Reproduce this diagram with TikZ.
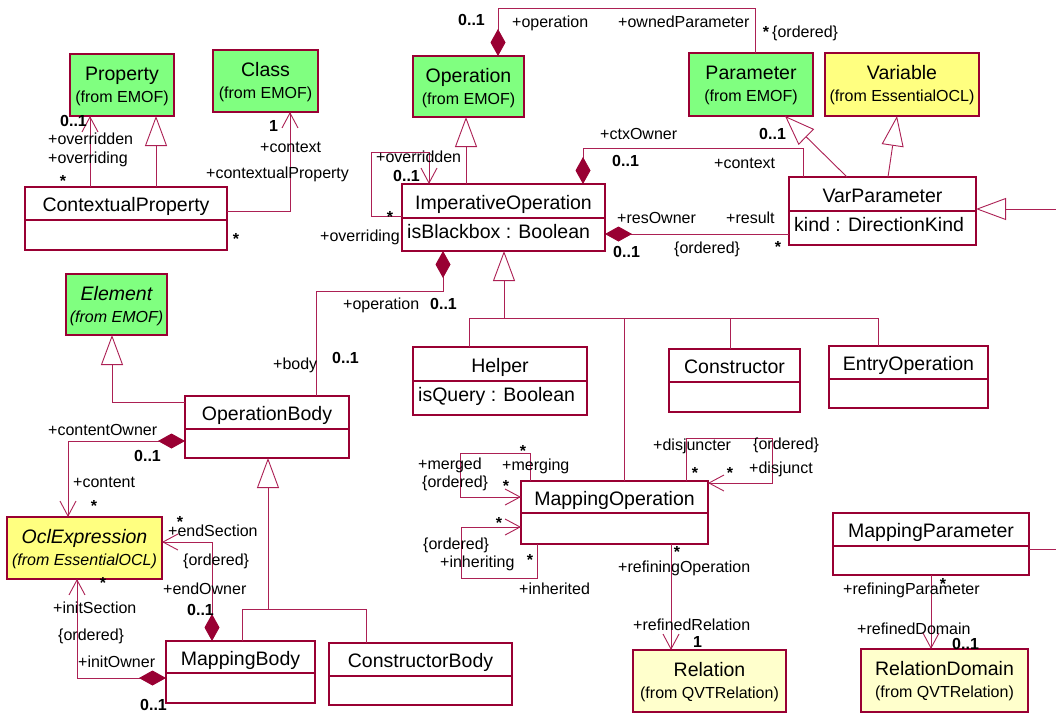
\documentclass[tikz,border=0pt]{standalone}
\usepackage{fontspec}
\setmainfont{Liberation Sans}
\usetikzlibrary{arrows.meta,calc}
\definecolor{bc}{RGB}{153,0,51}
\definecolor{lc}{RGB}{172,32,84}
\definecolor{gfill}{RGB}{128,255,128}
\definecolor{yfill}{RGB}{255,255,128}
\definecolor{lyfill}{RGB}{255,255,204}
\newcommand{\umlcls}[8]{%
 \node[box,minimum width=#4pt,minimum height=#5pt] (#1) at (#2,#3) {};
 \draw[bc,line width=1.1pt] ($(#1.north west)+(0,#6)$) -- ($(#1.north east)+(0,#6)$);
 \node[nm] (#1-n) at ($(#1.north)+(0,#6/2+1)$) {#7};
 \node[attr] (#1-a) at ($(#1.north west)+(5,#6+13)$) {#8};
}
\newcommand{\umlref}[8]{%
 \node[box,fill=#6,minimum width=#4pt,minimum height=#5pt] (#1) at (#2,#3) {};
 \node[nm] (#1-n) at ($(#1.north)+(0,19)$) {#7};
 \node[sub] (#1-s) at ($(#1.north)+(0,43)$) {#8};
}
\begin{document}
\begin{tikzpicture}[x=1pt,y=-1pt,
  box/.style={draw=bc,line width=1.1pt,inner sep=0pt,outer sep=0pt,anchor=north west,fill=white},
  nm/.style={font=\fontsize{19.5}{20}\selectfont,inner sep=0pt,text height=14pt,text depth=0pt,anchor=center},
  sub/.style={font=\fontsize{16}{17}\selectfont,inner sep=0pt,text height=11.5pt,text depth=0pt,anchor=center},
  attr/.style={font=\fontsize{19.5}{20}\selectfont,inner sep=0pt,text height=14pt,text depth=0pt,anchor=west},
  lab/.style={font=\fontsize{16}{17}\selectfont,inner sep=0pt,anchor=base west},
  mul/.style={font=\bfseries\fontsize{16}{17}\selectfont,inner sep=0pt,anchor=base west},
  star/.style={font=\bfseries\fontsize{16}{17}\selectfont,inner sep=0pt,anchor=base,yshift=-9pt},
  ln/.style={draw=lc,line width=0.9pt},
  nav/.style={ln,-{Straight Barb[length=15pt,width=16pt]}},
  gen/.style={ln,-{Triangle[length=30pt,width=22pt,open,fill=white]}},
  comp/.style={ln,{Diamond[length=27pt,width=15pt,color=bc]}-},
  compnav/.style={ln,{Diamond[length=27pt,width=15pt,color=bc]}-{Straight Barb[length=15pt,width=16pt]}},
]
\fill[white] (0,0) rectangle (1056,713);
\useasboundingbox (0,0) rectangle (1056,713);

% reference classes
\umlref{prop}{70}{54}{104}{62}{gfill}{Property}{(from EMOF)}
\umlref{cls}{213}{50}{105}{62}{gfill}{Class}{(from EMOF)}
\umlref{oper}{413}{56}{111}{61}{gfill}{Operation}{(from EMOF)}
\umlref{param}{689}{53}{124}{63}{gfill}{Parameter}{(from EMOF)}
\umlref{var}{825}{53}{154}{63}{yfill}{Variable}{(from EssentialOCL)}
\umlref{elem}{66}{274}{101}{61}{gfill}{\itshape Element}{\itshape (from EMOF)}
\umlref{ocl}{7}{517}{155}{62}{yfill}{\itshape OclExpression}{\itshape (from EssentialOCL)}
\umlref{rel}{633}{650}{153}{62}{lyfill}{Relation}{(from QVTRelation)}
\umlref{rd}{861}{649}{167}{63}{lyfill}{RelationDomain}{(from QVTRelation)}

% classes with compartments
\umlcls{ctxp}{25}{187}{202}{63}{33}{ContextualProperty}{}
\umlcls{varp}{789}{177}{187}{68}{34}{VarParameter}{kind : DirectionKind}
\umlcls{io}{402}{184}{203}{67}{34}{ImperativeOperation}{isBlackbox : Boolean}
\umlcls{ob}{185}{396}{164}{62}{33}{OperationBody}{}
\umlcls{helper}{413}{347}{174}{68}{34}{Helper}{isQuery : Boolean}
\umlcls{ctor}{669}{349}{131}{63}{33}{Constructor}{}
\umlcls{entry}{829}{346}{159}{62}{33}{EntryOperation}{}
\umlcls{mo}{521}{481}{187}{63}{32}{MappingOperation}{}
\umlcls{mp}{833}{513}{196}{62}{33}{MappingParameter}{}
\umlcls{mb}{166}{641}{149}{62}{32}{MappingBody}{}
\umlcls{cb}{329}{643}{183}{62}{33}{ConstructorBody}{}

% connectors
\draw[nav] ($(ctxp.north west)+(65,0)$) -- ($(prop.south west)+(20,0)$);
\draw[gen] ($(ctxp.north west)+(131,0)$) -- ($(prop.south west)+(86,0)$);
\draw[nav] ($(ctxp.north east)+(0,24)$) -| ($(cls.south west)+(77,0)$);
\draw[gen] ($(io.north west)+(64,0)$) -- ($(oper.south west)+(53,0)$);
\draw[nav] ($(io.north west)+(0,32)$) -| ($(io.north west)+(-31,-32)$) -| ($(io.north west)+(27,0)$);
\draw[comp] ($(oper.north west)+(85,0)$) |- ($(param.north west)+(66,-45)$) -- ($(param.north west)+(66,0)$);
\draw[comp] ($(io.north west)+(181,0)$) |- ($(varp.north west)+(14,-29)$) -- ($(varp.north west)+(14,0)$);
\draw[comp] ($(io.north east)+(0,50)$) -- ($(varp.north west)+(0,57)$);
\draw[gen] ($(varp.north west)+(58,0)$) -- ($(param.south west)+(96,0)$);
\draw[gen] ($(varp.north west)+(99,0)$) -- ($(var.south west)+(72,0)$);
\coordinate (offA) at (1056,209);
\draw[gen] (offA) -- ($(varp.north east)+(0,32)$);
\draw[gen] ($(ob.north west)+(0,6)$) -| ($(elem.south west)+(46,0)$);
\draw[comp] ($(io.south west)+(41,0)$) |- ($(ob.north west)+(131,-105)$) -- ($(ob.north west)+(131,0)$);
\draw[gen] ($(io.south west)+(102,67)$) -- ($(io.south west)+(102,0)$);
\draw[ln] ($(helper.north west)+(56,0)$) |- ($(entry.north west)+(49,-28)$) -- ($(entry.north west)+(49,0)$);
\draw[ln] ($(ctor.north west)+(61,0)$) -- ($(ctor.north west)+(61,-31)$);
\draw[ln] ($(mo.north west)+(103,0)$) -- ($(mo.north west)+(103,-163)$);
\draw[nav] ($(mo.north west)+(9,0)$) |- ($(mo.north west)+(-61,-28)$) |- ($(mo.north west)+(0,16)$);
\draw[nav] ($(mo.south west)+(16,0)$) |- ($(mo.south west)+(-60,34)$) |- ($(mo.north west)+(0,46)$);
\draw[nav] ($(mo.north west)+(165,0)$) |- ($(mo.north east)+(64,-43)$) |- ($(mo.north east)+(0,2)$);
\draw[nav] ($(mo.south west)+(150,0)$) -- ($(rel.north west)+(38,0)$);
\coordinate (offB) at (1056,549);
\draw[ln] ($(mp.north east)+(0,36)$) -- (offB);
\draw[nav] ($(mp.south west)+(98,0)$) -- ($(rd.north west)+(70,0)$);
\draw[compnav] ($(ob.north west)+(0,45)$) -| ($(ocl.north west)+(61,0)$);
\draw[compnav] ($(mb.north west)+(46,0)$) |- ($(ocl.north east)+(0,25)$);
\draw[compnav] ($(mb.north west)+(0,37)$) -| ($(ocl.south west)+(70,0)$);
\draw[gen] ($(ob.south west)+(83,151)$) -- ($(ob.south west)+(83,0)$);
\draw[ln] ($(mb.north west)+(76,0)$) |- ($(cb.north west)+(37,-34)$) -- ($(cb.north west)+(37,0)$);

% labels
\node[mul] (L1) at (60,126) {0..1};
\node[lab] (L2) at (48,144) {+overridden};
\node[lab] (L3) at (48,163) {+overriding};
\node[star] (L4) at (63,177) {*};
\node[mul] (L5) at (269,131) {1};
\node[lab] (L6) at (260,152) {+context};
\node[lab] (L7) at (206,178) {+contextualProperty};
\node[star] (L8) at (236,235) {*};
\node[mul] (L9) at (458,25) {0..1};
\node[lab] (L10) at (512,27) {+operation};
\node[lab] (L11) at (618,27) {+ownedParameter};
\node[star] (L12) at (766,28) {*};
\node[lab] (L13) at (772,37) {\{ordered\}};
\node[lab] (L14) at (376,162) {+overridden};
\node[mul] (L15) at (393,181) {0..1};
\node[star] (L16) at (390,213) {*};
\node[lab] (L17) at (320,241) {+overriding};
\node[lab] (L18) at (600,139) {+ctxOwner};
\node[mul] (L19) at (612,166) {0..1};
\node[lab] (L20) at (714,168) {+context};
\node[mul] (L21) at (759,139) {0..1};
\node[lab] (L22) at (617,223) {+resOwner};
\node[lab] (L23) at (726,223) {+result};
\node[mul] (L24) at (613,257) {0..1};
\node[lab] (L25) at (674,253) {\{ordered\}};
\node[star] (L26) at (778,243) {*};
\node[lab] (L27) at (343,309) {+operation};
\node[mul] (L28) at (430,309) {0..1};
\node[lab] (L29) at (273,369) {+body};
\node[mul] (L30) at (332,363) {0..1};
\node[lab] (L31) at (48,435) {+contentOwner};
\node[mul] (L32) at (134,461) {0..1};
\node[lab] (L33) at (73,487) {+content};
\node[star] (L34) at (94,502) {*};
\node[star] (L35) at (180,518) {*};
\node[lab] (L36) at (168,536) {+endSection};
\node[lab] (L37) at (183,565) {\{ordered\}};
\node[lab] (L38) at (163,594) {+endOwner};
\node[mul] (L39) at (187,615) {0..1};
\node[star] (L40) at (103,579) {*};
\node[lab] (L41) at (53,613) {+initSection};
\node[lab] (L42) at (58,640) {\{ordered\}};
\node[lab] (L43) at (78,667) {+initOwner};
\node[mul] (L44) at (140,710) {0..1};
\node[star] (L45) at (523,447) {*};
\node[lab] (L46) at (418,469) {+merged};
\node[lab] (L47) at (422,487) {\{ordered\}};
\node[lab] (L48) at (502,470) {+merging};
\node[star] (L49) at (506,482) {*};
\node[star] (L50) at (499,519) {*};
\node[lab] (L51) at (423,549) {\{ordered\}};
\node[lab] (L52) at (440,567) {+inheriting};
\node[star] (L53) at (530,556) {*};
\node[lab] (L54) at (519,594) {+inherited};
\node[lab] (L55) at (653,450) {+disjuncter};
\node[lab] (L56) at (753,449) {\{ordered\}};
\node[star] (L57) at (695,469) {*};
\node[star] (L58) at (730,469) {*};
\node[lab] (L59) at (749,473) {+disjunct};
\node[star] (L60) at (677,548) {*};
\node[lab] (L61) at (618,572) {+refiningOperation};
\node[lab] (L62) at (633,630) {+refinedRelation};
\node[mul] (L63) at (693,647) {1};
\node[star] (L64) at (943,580) {*};
\node[lab] (L65) at (843,594) {+refiningParameter};
\node[lab] (L66) at (857,634) {+refinedDomain};
\node[mul] (L67) at (952,649) {0..1};
\end{tikzpicture}
\end{document}
